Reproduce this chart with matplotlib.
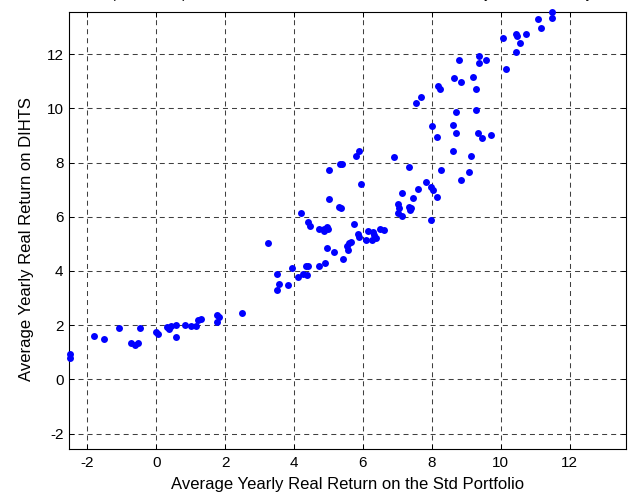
import matplotlib
matplotlib.use("Agg")
import matplotlib.pyplot as plt

plt.rcParams['font.family'] = ['Liberation Sans', 'DejaVu Sans']
plt.rcParams['axes.unicode_minus'] = False
plt.rcParams['lines.scale_dashes'] = False

# average yearly real returns
std_ret = [-2.50, -2.50, -1.80, -1.50, -1.09, -0.73, -0.61, -0.53, -0.46, -0.01,
           0.05, 0.31, 0.38, 0.44, 0.58, 0.58, 0.84, 1.00, 1.17, 1.21,
           1.30, 1.77, 1.81, 1.77, 2.48, 3.26, 3.52, 3.56, 3.51, 3.82,
           3.93, 4.11, 4.27, 4.35, 4.42, 4.38, 4.20, 4.42, 4.46, 4.72,
           4.86, 4.87, 4.97, 4.98, 5.01, 5.01, 4.97, 4.74, 4.90, 5.16,
           5.43, 5.30, 5.38, 5.34, 5.39, 5.79, 5.90, 5.94, 5.75, 5.53,
           5.56, 5.60, 5.65, 5.86, 5.89, 6.09, 6.16, 6.29, 6.32, 6.27,
           6.39, 6.50, 6.62, 6.91, 7.35, 7.13, 7.02, 7.05, 7.02, 7.13,
           7.46, 7.33, 7.37, 7.41, 7.61, 7.84, 7.98, 8.03, 8.14, 7.99,
           8.14, 8.70, 8.62, 8.28, 8.84, 9.09, 7.54, 7.69, 8.19, 8.25,
           8.66, 8.84, 8.78, 9.21, 9.29, 9.37, 9.37, 9.59, 8.70, 9.29,
           8.02, 8.62, 9.33, 9.45, 9.71, 9.14, 10.15, 10.45, 10.56, 10.08,
           10.44, 10.49, 10.75, 11.08, 11.16, 11.50, 11.50]
dihts_ret = [0.93, 0.80, 1.60, 1.50, 1.88, 1.35, 1.25, 1.35, 1.88, 1.75,
             1.68, 1.92, 1.87, 1.96, 2.02, 1.55, 2.02, 1.97, 1.96, 2.19,
             2.21, 2.38, 2.29, 2.11, 2.45, 5.04, 3.90, 3.53, 3.30, 3.48,
             4.10, 3.76, 3.90, 4.19, 4.19, 3.86, 6.13, 5.80, 5.64, 5.56,
             5.47, 5.56, 5.61, 5.53, 6.64, 7.72, 4.86, 4.19, 4.28, 4.71,
             4.43, 6.36, 6.31, 7.93, 7.96, 8.24, 8.44, 7.21, 5.74, 4.92,
             4.76, 5.02, 5.08, 5.36, 5.25, 5.14, 5.47, 5.44, 5.31, 5.14,
             5.23, 5.56, 5.51, 8.20, 7.82, 6.89, 6.46, 6.32, 6.13, 6.03,
             6.69, 6.36, 6.26, 6.31, 7.02, 7.28, 7.11, 6.97, 6.74, 5.88,
             8.95, 9.10, 8.44, 7.72, 7.35, 7.64, 10.18, 10.43, 10.83, 10.70,
             11.12, 10.98, 11.78, 11.17, 10.70, 11.93, 11.68, 11.78, 9.85, 9.95,
             9.34, 9.38, 9.10, 8.92, 9.00, 8.25, 11.45, 12.07, 12.40, 12.58,
             12.73, 12.68, 12.73, 13.29, 12.96, 13.54, 13.34]

fig = plt.figure(figsize=(6.32, 4.95), dpi=100)
ax = fig.add_axes([0.1092, 0.0923, 0.8813, 0.8828])

ax.plot(std_ret, dihts_ret, 'o', color=(0, 0, 1), ms=5, mec='none', clip_on=False, zorder=3)

ax.set_xlim(-2.53, 13.64)
ax.set_ylim(-2.58, 13.54)
ax.set_xticks([-2, 0, 2, 4, 6, 8, 10, 12])
ax.set_yticks([-2, 0, 2, 4, 6, 8, 10, 12])
ax.tick_params(direction='in', length=3.6, width=0.7, top=True, right=True, labelsize=11)
ax.tick_params(axis='x', pad=5)
ax.tick_params(axis='y', pad=4)
for s in ax.spines.values():
    s.set_linewidth(0.8)
ax.grid(True, color='0.25', linewidth=0.75, linestyle=(0, (3.6, 2.9)))
ax.set_axisbelow(True)

ax.set_xlabel("Average Yearly Real Return on the Std Portfolio", fontsize=12, labelpad=5)
ax.set_ylabel("Average Yearly Real Return on DIHTS", fontsize=12)
ax.yaxis.set_label_coords(-0.062, 0.48)

# title sits mostly above the figure edge, only its lower part shows
fig.text(0.547, 1.0 + 2 / 495, "S (1900-2010) Real Returns on DIHTS and Std, Mean for Every Time in Country",
         ha='center', va='baseline', fontsize=10)

fig.savefig("out.png", dpi=100)
